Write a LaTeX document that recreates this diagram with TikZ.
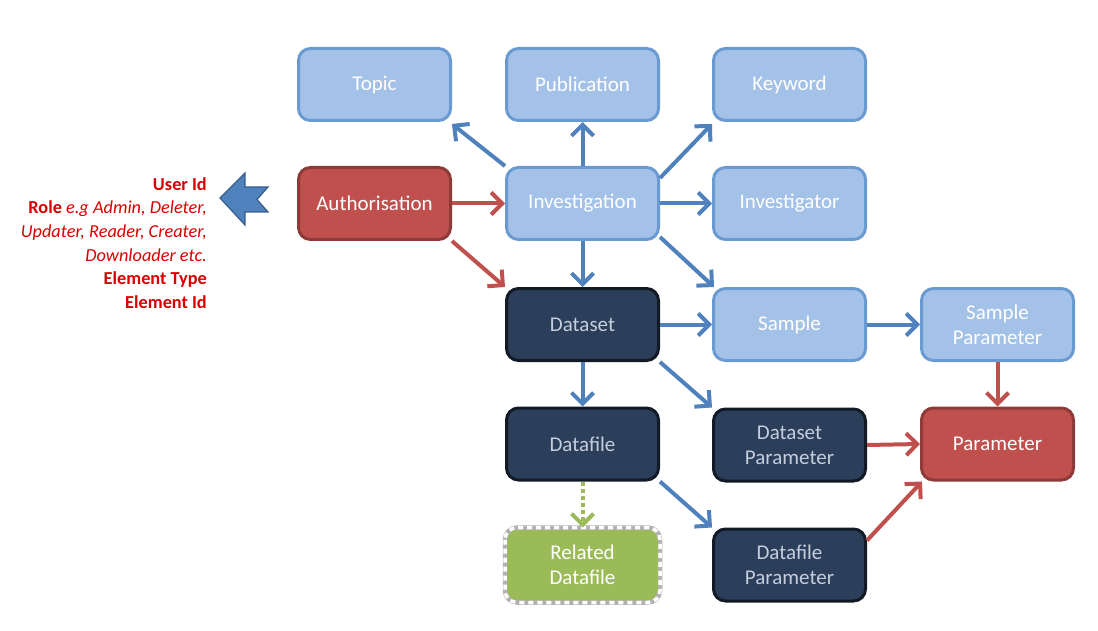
\documentclass[tikz,border=0pt]{standalone}
\usepackage{fontspec}
\setmainfont{Carlito}
\usetikzlibrary{arrows.meta}
\definecolor{lbfill}{HTML}{A4C2E8}
\definecolor{lbdraw}{HTML}{6A9AD2}
\definecolor{rdfill}{HTML}{C0504D}
\definecolor{rddraw}{HTML}{8E3A38}
\definecolor{dkfill}{HTML}{2B3E5A}
\definecolor{dkdraw}{HTML}{121A26}
\definecolor{dktext}{HTML}{C4CEDC}
\definecolor{gnfill}{HTML}{9BBB59}
\definecolor{bluearr}{HTML}{4F81BD}
\definecolor{bluedraw}{HTML}{385D8A}
\definecolor{redtext}{HTML}{D80000}
\tikzset{
  box/.style={rounded corners=12pt, minimum width=152pt, minimum height=72pt, line width=3pt, align=center,
    font=\fontsize{21}{25}\selectfont, inner sep=0pt},
  lightbox/.style={box, fill=lbfill, draw=lbdraw, text=white},
  redbox/.style={box, fill=rdfill, draw=rddraw, text=white},
  darkbox/.style={box, fill=dkfill, draw=dkdraw, text=dktext},
  greenbox/.style={box, fill=gnfill, draw=none, text=white},
  conn/.style={line width=4pt, -{Straight Barb[length=11pt,width=22pt,line width=4pt]}},
  bconn/.style={conn, draw=bluearr},
  rconn/.style={conn, draw=rdfill},
  gconn/.style={line width=4pt, draw=gnfill, dash pattern=on 4pt off 3pt, -{Straight Barb[length=11pt,width=22pt,line width=4pt]}},
}
\begin{document}
\begin{tikzpicture}[x=1pt,y=-1pt]
\useasboundingbox (0,0) rectangle (1098,631);
\node[lightbox] (topic) at (374.5,84.5) {Topic};
\node[lightbox] (pub) at (582.5,84.5) {Publication};
\node[lightbox] (key) at (789.5,84.5) {Keyword};
\node[redbox] (auth) at (374.5,203.5) {Authorisation};
\node[lightbox] (inv) at (582.5,203.5) {Investigation};
\node[lightbox] (invr) at (789.5,203.5) {Investigator};
\node[darkbox] (ds) at (582.5,324.5) {Dataset};
\node[lightbox] (samp) at (789.5,324.5) {Sample};
\node[lightbox] (sp) at (997.5,324.5) {Sample\\Parameter};
\node[darkbox] (df) at (582.5,444) {Datafile};
\node[darkbox] (dsp) at (789.5,445) {Dataset\\Parameter};
\node[redbox] (par) at (997.5,444) {Parameter};
\node[greenbox] (rel) at (582.5,565) {Related\\Datafile};
\draw[gray!60, line width=4.5pt, rounded corners=12pt] (rel.north west) rectangle (rel.south east);
\draw[white, line width=3.5pt, rounded corners=12pt, dash pattern=on 5pt off 4pt] (rel.north west) rectangle (rel.south east);
\node[darkbox] (dfp) at (789.5,565) {Datafile\\Parameter};

% block arrow
\coordinate (ba) at (220,198);
\filldraw[fill=bluearr, draw=bluedraw, line width=1.2pt, line join=miter]
  (ba) -- (245,173) -- (245,187) -- (268,187) -- (257,199.5) -- (268,212) -- (245,212) -- (245,225) -- cycle;

\node[anchor=east, align=right, text=redtext, font=\fontsize{18.3}{23.6}\selectfont, inner sep=0pt] (info) at (207,243)
{\textbf{User Id}\\\textbf{Role} \textit{e.g Admin, Deleter,}\\\textit{Updater, Reader, Creater,}\\\textit{Downloader etc.}\\\textbf{Element Type}\\\textbf{Element Id}};

% connectors
\draw[bconn] ([shift={(0,0)}]inv.north west) -- ([shift={(0,2)}]topic.south east);
\draw[bconn] (inv.north) -- (pub.south);
\draw[bconn] ([shift={(0,12)}]inv.north east) -- ([shift={(0,2)}]key.south west);
\draw[bconn] (inv.east) -- (invr.west);
\draw[bconn] ([shift={(0,-4)}]inv.south east) -- ([shift={(2,0)}]samp.north west);
\draw[bconn] (inv.south) -- (ds.north);
\draw[rconn] (auth.east) -- (inv.west);
\draw[rconn] (auth.south east) -- (ds.north west);
\draw[bconn] (ds.east) -- (samp.west);
\draw[bconn] (ds.south east) -- (dsp.north west);
\draw[bconn] (ds.south) -- (df.north);
\draw[bconn] (df.south east) -- (dfp.north west);
\draw[gconn] (df.south) -- (rel.north);
\draw[bconn] (samp.east) -- (sp.west);
\draw[rconn] (sp.south) -- (par.north);
\draw[rconn] (dsp.east) -- (par.west);
\draw[rconn] ([shift={(0,13)}]dfp.north east) -- ([shift={(2,0)}]par.south west);
\end{tikzpicture}
\end{document}
